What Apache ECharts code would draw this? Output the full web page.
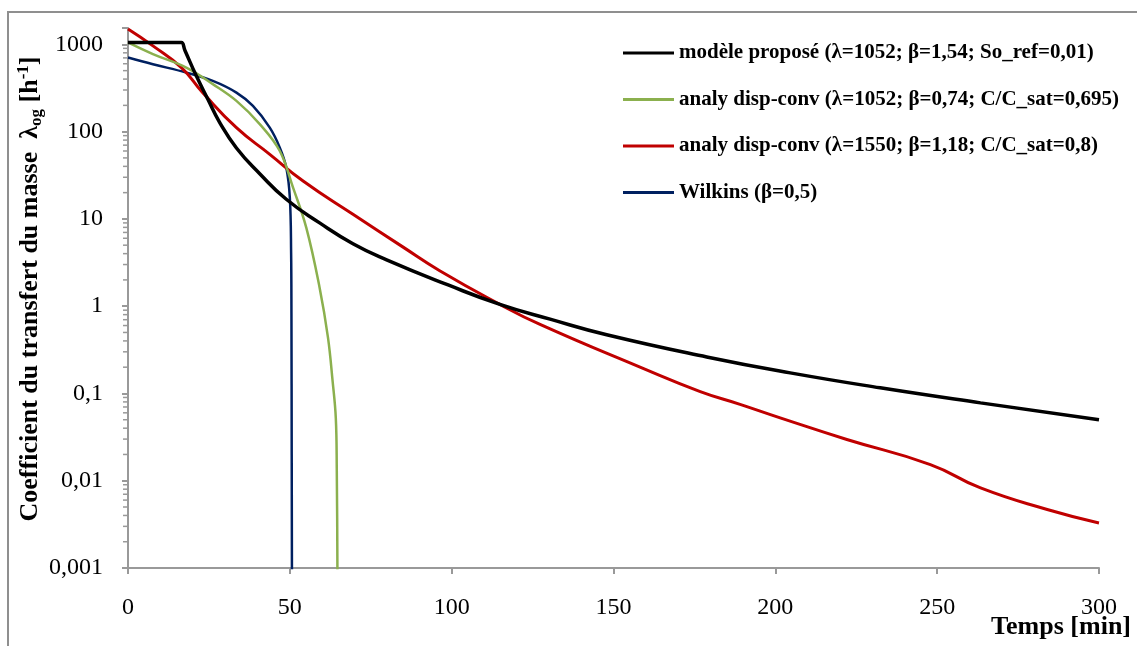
<!DOCTYPE html>
<html>
<head>
<meta charset="utf-8">
<script src="https://cdn.jsdelivr.net/npm/echarts@6/dist/echarts.min.js"></script>
<style>
html,body{margin:0;padding:0;background:#fff;}
#c{width:1137px;height:646px;}
</style>
</head>
<body>
<div id="c"></div>
<script>
// ---- data ----
const seriesNames = [
  'modèle proposé (λ=1052; β=1,54; So_ref=0,01)',
  'analy disp-conv (λ=1052; β=0,74; C/C_sat=0,695)',
  'analy disp-conv (λ=1550; β=1,18; C/C_sat=0,8)',
  'Wilkins (β=0,5)'
];
const tBlack = [0, 15.5, 16.5, 17.6, 21.1, 24.6, 28.3, 33.5, 40.7, 48.9, 59.2, 69.5, 79.9, 98.9, 114.9, 130.4, 147.9, 178.8, 204.6, 232.4, 263.4, 300];
const vBlack = [1052, 1052, 1052, 852, 436, 238, 128, 65, 33, 16.8, 9.0, 5.2, 3.4, 1.75, 1.05, 0.71, 0.47, 0.262, 0.172, 0.116, 0.078, 0.050];

const tGreen = [0, 7.7, 18, 26.2, 33.5, 40.7, 46.9, 51, 55.1, 59.2, 61.8, 63.2, 64.2, 64.5, 64.7, 64.8];
const vGreen = [1052, 773, 542, 350, 225, 122, 60, 22.8, 7.9, 1.63, 0.434, 0.14, 0.0525, 0.014, 0.001, 0.0001];

const tRed = [0, 7.7, 16.5, 23.1, 33.5, 43.8, 54.1, 69.5, 85, 96.3, 114.9, 127.3, 158.2, 176.8, 189.1, 201.5, 222.1, 247.9, 263.4, 284, 300];
const vRed = [1500, 961, 542, 280, 111, 55, 27.2, 11.3, 4.75, 2.55, 1.05, 0.618, 0.2, 0.105, 0.075, 0.0525, 0.0297, 0.0153, 0.00826, 0.00468, 0.00328];

const tBlue = [0, 7.7, 18, 26.2, 33.5, 38.6, 43.8, 46.9, 48.9, 50.0, 50.4, 50.5, 50.58, 50.7];
const vBlue = [707, 593, 475, 381, 280, 197, 111, 65.6, 38.7, 17.5, 4, 0.8, 0.02, 0.0001];

const xTicks = [0, 50, 100, 150, 200, 250, 300];
const yMin = 0.001, yMax = 1540;

// ---- helpers ----
const zip = (t, v) => t.map((x, i) => [x, v[i]]);
const minorVals = [];
for (let k = -3; k <= 3; k++) {
  for (let m = 2; m <= 9; m++) {
    const v = m * Math.pow(10, k);
    if (v < yMax) minorVals.push([0, v]);
  }
}
const FONT = 'Liberation Serif';
const colors = ['#000000', '#8BB04E', '#C00000', '#002060'];
const widths = [3.5, 2.5, 3, 2.5];
const smooths = [0.5, 0.4, 0.5, 0.4];
const datas = [zip(tBlack, vBlack), zip(tGreen, vGreen), zip(tRed, vRed), zip(tBlue, vBlue)];

const chart = echarts.init(document.getElementById('c'), null, {renderer: 'canvas'});
const lineSeries = datas.map((d, i) => ({
  name: seriesNames[i],
  type: 'line',
  data: d,
  showSymbol: false,
  symbol: 'none',
  smooth: smooths[i],
  clip: true,
  lineStyle: {color: colors[i], width: widths[i]},
  itemStyle: {color: colors[i]},
  z: 10 - i
}));

const option = {
  animation: false,
  backgroundColor: '#fff',
  grid: {left: 128, right: 38, top: 28, bottom: 78, containLabel: false},
  legend: {
    data: seriesNames,
    orient: 'vertical',
    left: 623,
    top: 42,
    padding: 0,
    icon: 'rect',
    itemWidth: 51,
    itemHeight: 3,
    itemGap: 24.5,
    textStyle: {fontFamily: FONT, fontWeight: 'bold', fontSize: 21, color: '#000', lineHeight: 22}
  },
  xAxis: {
    type: 'value',
    min: xTicks[0],
    max: xTicks[xTicks.length - 1],
    interval: 50,
    axisLine: {show: true, lineStyle: {color: '#999', width: 2}},
    axisTick: {show: true, inside: false, length: 6, lineStyle: {color: '#999', width: 2}},
    splitLine: {show: false},
    axisLabel: {fontFamily: FONT, fontSize: 24, color: '#000', margin: 28}
  },
  yAxis: {
    type: 'log',
    logBase: 10,
    min: yMin,
    max: yMax,
    interval: 1,
    axisLine: {show: true, onZero: false, lineStyle: {color: '#999', width: 2}},
    axisTick: {show: true, inside: false, length: 6, lineStyle: {color: '#999', width: 2}},
    splitLine: {show: false},
    axisLabel: {
      fontFamily: FONT, fontSize: 24, color: '#000', margin: 25,
      formatter: function (v) {
        const l = Math.log10(v);
        if (Math.abs(l - Math.round(l)) > 1e-6) return '';
        const e = Math.round(l);
        if (e >= 0) return String(Math.pow(10, e));
        return '0,' + '0'.repeat(-e - 1) + '1';
      }
    }
  },
  series: [
    ...lineSeries,
    {
      name: 'minorTicks',
      type: 'custom',
      data: minorVals,
      silent: true,
      clip: false,
      renderItem: function (params, api) {
        const p = api.coord([api.value(0), api.value(1)]);
        return {
          type: 'line',
          shape: {x1: p[0] - 5, y1: p[1], x2: p[0], y2: p[1]},
          style: {stroke: '#999', lineWidth: 1.5}
        };
      },
      z: 1
    }
  ],
  graphic: [
    {
      type: 'rect',
      shape: {x: 8, y: 12, width: 1300, height: 800},
      style: {fill: 'none', stroke: '#8f8f8f', lineWidth: 2},
      silent: true,
      z: -1
    },
    {
      type: 'text',
      x: 30, y: 289,
      rotation: Math.PI / 2,
      style: {
        text: '{n|Coefficient du transfert du masse  λ}{s|og}{n| [h}{p|-1}{n|]}',
        align: 'center',
        verticalAlign: 'middle',
        rich: {
          n: {fontFamily: FONT, fontWeight: 'bold', fontSize: 26, color: '#000', lineHeight: 30},
          s: {fontFamily: FONT, fontWeight: 'bold', fontSize: 17, color: '#000', lineHeight: 17, verticalAlign: 'bottom'},
          p: {fontFamily: FONT, fontWeight: 'bold', fontSize: 17, color: '#000', lineHeight: 17, verticalAlign: 'top'}
        }
      }
    },
    {
      type: 'text',
      x: 1131, y: 627,
      style: {
        text: 'Temps [min]',
        align: 'right',
        verticalAlign: 'middle',
        fontFamily: FONT, fontWeight: 'bold', fontSize: 26, fill: '#000'
      }
    }
  ]
};
chart.setOption(option);
</script>
</body>
</html>
